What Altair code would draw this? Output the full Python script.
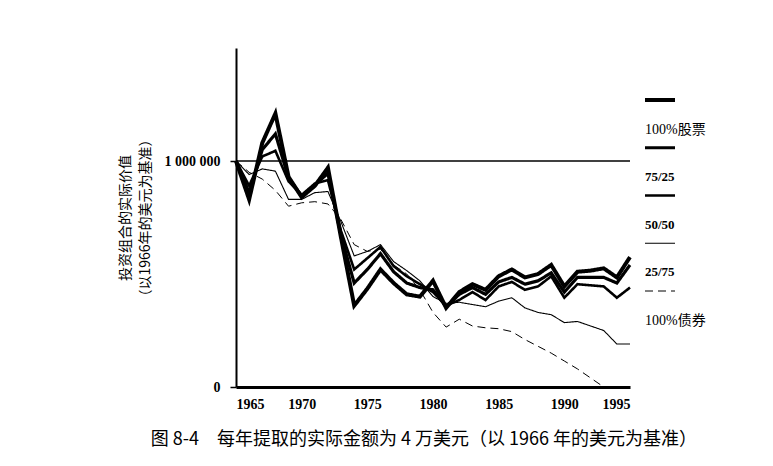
import altair as alt
import pandas as pd

years = list(range(1965, 1996))
series_names = ["100%股票", "75/25", "50/50", "25/75", "100%债券"]

# real portfolio value, thousands of 1966 dollars
stock100 = [1000, 830, 1080, 1210, 930, 840, 890, 970, 660, 360, 435, 520, 460, 410, 400, 470,
            350, 420, 455, 430, 490, 520, 485, 500, 540, 445, 510, 515, 525, 485, 575]
mix75 = [1000, 860, 1050, 1120, 925, 845, 895, 945, 670, 460, 520, 590, 510, 460, 440, 430,
         355, 410, 440, 410, 465, 485, 455, 470, 505, 420, 485, 485, 485, 460, 540]
mix50 = [1000, 890, 1020, 1045, 910, 850, 900, 915, 690, 520, 570, 620, 535, 490, 455, 420,
         360, 385, 420, 385, 445, 465, 430, 445, 490, 395, 455, 450, 445, 395, 440]
mix25 = [1000, 940, 965, 955, 830, 830, 860, 865, 730, 580, 600, 630, 555, 515, 470, 400,
         370, 375, 365, 355, 380, 395, 350, 330, 320, 285, 290, 270, 250, 190, 190]
bond100 = [1000, 950, 920, 870, 800, 815, 820, 810, 740, 630, 600, 610, 540, 500, 430, 330,
           265, 300, 270, 262, 258, 245, 210, 180, 150, 115, 80, 40, 0]

x_ticks = [1965, 1970, 1975, 1980, 1985, 1990, 1995]
y_ticks = [0, 1000000]
ref_value = [1000000]
stroke_widths = [4, 3.2, 2.6, 1.1, 1]
stroke_dashes = [[1, 0], [1, 0], [1, 0], [1, 0], [8, 5]]

rows = []
for name, vals in zip(series_names, [stock100, mix75, mix50, mix25, bond100]):
    for yr, v in zip(years, vals):
        rows.append({"series": name, "year": yr, "value": v * 1000})
df = pd.DataFrame(rows)

serif = "Liberation Serif"
cjk = "Noto Sans CJK SC"

sw = alt.StrokeWidth("series:N", scale=alt.Scale(type="ordinal", domain=series_names, range=stroke_widths), legend=None)
sd = alt.StrokeDash("series:N", scale=alt.Scale(type="ordinal", domain=series_names, range=stroke_dashes), legend=None)

lines = alt.Chart(df).mark_line(color="black").encode(
    x=alt.X("year:Q", scale=alt.Scale(domain=[1965, 1995], nice=False, zero=False),
            axis=alt.Axis(values=x_ticks, format="d", title=None, ticks=False, labelPadding=10,
                          labelFont=serif, labelFontWeight="bold", labelFontSize=14,
                          labelColor="black", domainColor="black", domainWidth=3, grid=False)),
    y=alt.Y("value:Q", scale=alt.Scale(domain=[0, 1500000], nice=False),
            axis=alt.Axis(values=y_ticks, labelExpr="replace(format(datum.value, ','), regexp(',', 'g'), ' ')",
                          title=["投资组合的实际价值", "（以1966年的美元为基准）"],
                          titleFont=cjk, titleFontSize=14, titleFontWeight="normal", titleColor="black",
                          titleLineHeight=20, titlePadding=12, tickSize=6, tickColor="black",
                          tickWidth=1.5, labelPadding=10,
                          labelFont=serif, labelFontWeight="bold", labelFontSize=14, labelColor="black",
                          domainColor="black", domainWidth=2, grid=False)),
    strokeWidth=sw,
    strokeDash=sd,
    detail="series:N",
)

ref = alt.Chart(pd.DataFrame({"value": ref_value})).mark_rule(color="black", strokeWidth=1.5).encode(
    y=alt.Y("value:Q")
)

main = alt.layer(ref, lines).properties(width=394, height=339)

leg_df = pd.DataFrame({"series": series_names})
leg_y = alt.Y("series:N", scale=alt.Scale(type="point", domain=series_names, range=[52, 243], padding=0), axis=None)
leg_lines = alt.Chart(leg_df).mark_rule(color="black").encode(
    y=leg_y, x=alt.value(0), x2=alt.value(30), strokeWidth=sw, strokeDash=sd
)
leg_text_cjk = alt.Chart(leg_df).transform_filter(
    "indexof(datum.series, '/') < 0"
).mark_text(align="left", baseline="middle", dy=30, font=f"{serif}, {cjk}",
            fontWeight="normal", fontSize=14, color="black").encode(
    y=leg_y, x=alt.value(0), text="series:N"
)
leg_text_mix = alt.Chart(leg_df).transform_filter(
    "indexof(datum.series, '/') >= 0"
).mark_text(align="left", baseline="middle", dy=29, font=serif,
            fontWeight="bold", fontSize=13, color="black").encode(
    y=leg_y, x=alt.value(0), text="series:N"
)
legend = alt.layer(leg_lines, leg_text_cjk, leg_text_mix).properties(width=60, height=339)

chart = alt.hconcat(main, legend, spacing=15, bounds="flush").resolve_scale(
    x="independent", y="independent", strokeWidth="independent", strokeDash="independent"
).properties(
    title=alt.TitleParams(text="图 8-4\u2003每年提取的实际金额为 4 万美元（以 1966 年的美元为基准）",
                          orient="bottom", font=cjk, fontSize=18, fontWeight="normal", color="black",
                          anchor="middle", offset=20, dx=12),
    padding={"left": 110, "top": 40, "right": 5, "bottom": 5},
).configure_view(stroke=None)

chart.save("out.html", embed_options={"renderer": "svg", "actions": False})
